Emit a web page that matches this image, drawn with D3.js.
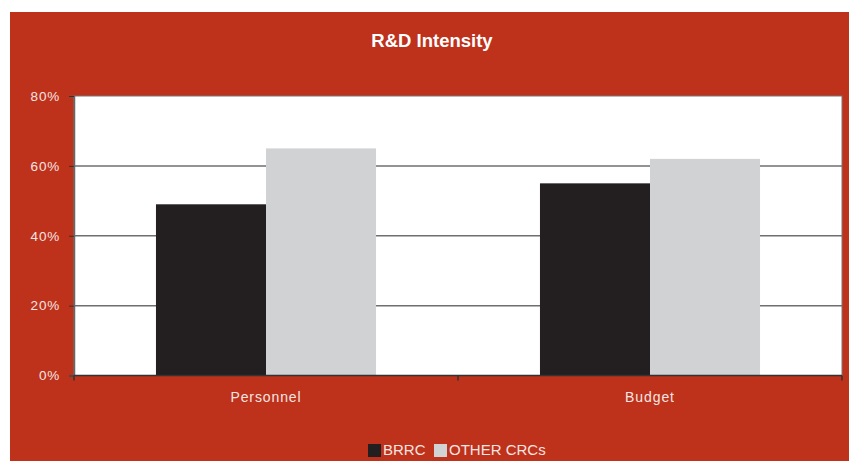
<!DOCTYPE html>
<html>
<head>
<meta charset="utf-8">
<script src="https://cdn.jsdelivr.net/npm/d3@7"></script>
<style>
  body { margin: 0; background: #fff; }
  svg { display: block; font-family: "Liberation Sans", Arial, sans-serif; }
</style>
</head>
<body>
<svg></svg>
<script>
// data
const categories = ['Personnel', 'Budget']
const seriesNames = ['BRRC', 'OTHER CRCs']
const brrcValues = [0.49, 0.55]
const otherValues = [0.65, 0.62]
const yTicks = [0, 0.2, 0.4, 0.6, 0.8]
const seriesColors = ['#231f20', '#d1d2d4']

const width = 849
const height = 461
const svg = d3.select('svg').attr('width', width).attr('height', height)

const plot = {left: 74, right: 842, top: 96, bottom: 375.5}

// red panel
svg.append('rect')
    .attr('x', 10).attr('y', 12)
    .attr('width', width - 10).attr('height', height - 12)
    .attr('fill', '#be311b')

svg.append('text')
    .attr('x', 432).attr('y', 47)
    .attr('text-anchor', 'middle')
    .attr('fill', '#fff')
    .attr('font-weight', 'bold')
    .attr('font-size', 18.5)
    .text('R&D Intensity')

const xScale = d3.scaleBand()
    .domain(categories)
    .range([plot.left, plot.right])

const xInner = d3.scaleBand()
    .domain(seriesNames)
    .range([0, xScale.bandwidth()])
    .paddingOuter(0.745)

const yScale = d3.scaleLinear()
    .domain([0, 0.8])
    .range([plot.bottom, plot.top])

svg.append('rect')
    .attr('x', plot.left).attr('y', plot.top)
    .attr('width', plot.right - plot.left).attr('height', plot.bottom - plot.top)
    .attr('fill', '#fff')
    .attr('stroke', '#777').attr('stroke-width', 1)

// gridlines
svg.append('g')
    .selectAll('line')
    .data(yTicks.filter(d => d > 0 && d < 0.8))
    .enter()
    .append('line')
    .attr('x1', plot.left).attr('x2', plot.right)
    .attr('y1', d => yScale(d)).attr('y2', d => yScale(d))
    .attr('stroke', '#6f6f6f')
    .attr('stroke-width', 1.5)

const rows = categories.map((c, i) => ({cat: c, values: [brrcValues[i], otherValues[i]]}))

svg.append('g')
    .selectAll('g')
    .data(rows)
    .enter()
    .append('g')
    .attr('transform', d => `translate(${xScale(d.cat)},0)`)
    .selectAll('rect')
    .data(d => d.values.map((v, j) => ({name: seriesNames[j], value: v, color: seriesColors[j]})))
    .enter()
    .append('rect')
    .attr('x', d => xInner(d.name))
    .attr('width', xInner.bandwidth())
    .attr('y', d => yScale(d.value))
    .attr('height', d => plot.bottom - yScale(d.value))
    .attr('fill', d => d.color)

// axes
const yAxis = d3.axisLeft(yScale)
    .tickValues(yTicks)
    .tickSize(5)
    .tickPadding(9)
    .tickFormat(d3.format('.0%'))

const yG = svg.append('g')
    .attr('transform', `translate(${plot.left},0)`)
    .call(yAxis)
yG.select('.domain').attr('stroke', '#666').attr('stroke-width', 1.5)
yG.selectAll('.tick line').attr('stroke', '#333')
yG.selectAll('text')
    .attr('fill', '#f6e6e2')
    .attr('font-size', 13.5)
    .attr('letter-spacing', 0.8)
    .attr('font-family', '"Liberation Sans", Arial, sans-serif')

const xAxis = d3.axisBottom(xScale)
    .tickSize(0)
    .tickPadding(17)

const xG = svg.append('g')
    .attr('transform', `translate(0,${plot.bottom})`)
    .call(xAxis)
xG.select('.domain').remove()
xG.selectAll('text')
    .attr('fill', '#f6e6e2')
    .attr('font-size', 14)
    .attr('letter-spacing', 0.9)
    .attr('font-family', '"Liberation Sans", Arial, sans-serif')

// category boundary ticks
const boundaries = [plot.left, xScale('Budget'), plot.right]
svg.append('g')
    .selectAll('line')
    .data(boundaries)
    .enter()
    .append('line')
    .attr('x1', d => d).attr('x2', d => d)
    .attr('y1', plot.bottom).attr('y2', plot.bottom + 5)
    .attr('stroke', '#333').attr('stroke-width', 1.5)

svg.append('line')
    .attr('x1', plot.left).attr('x2', plot.right)
    .attr('y1', plot.bottom).attr('y2', plot.bottom)
    .attr('stroke', '#333').attr('stroke-width', 1.5)

// legend
const legendX = [368, 434]
const legend = svg.append('g')
    .selectAll('g')
    .data(seriesNames)
    .enter()
    .append('g')
    .attr('transform', (d, i) => `translate(${legendX[i]},444)`)
legend.append('rect')
    .attr('width', 13).attr('height', 13)
    .attr('fill', (d, i) => seriesColors[i])
legend.append('text')
    .attr('x', 15).attr('y', 11)
    .attr('fill', '#f6e6e2')
    .attr('font-size', 15)
    .text(d => d)
</script>
</body>
</html>
